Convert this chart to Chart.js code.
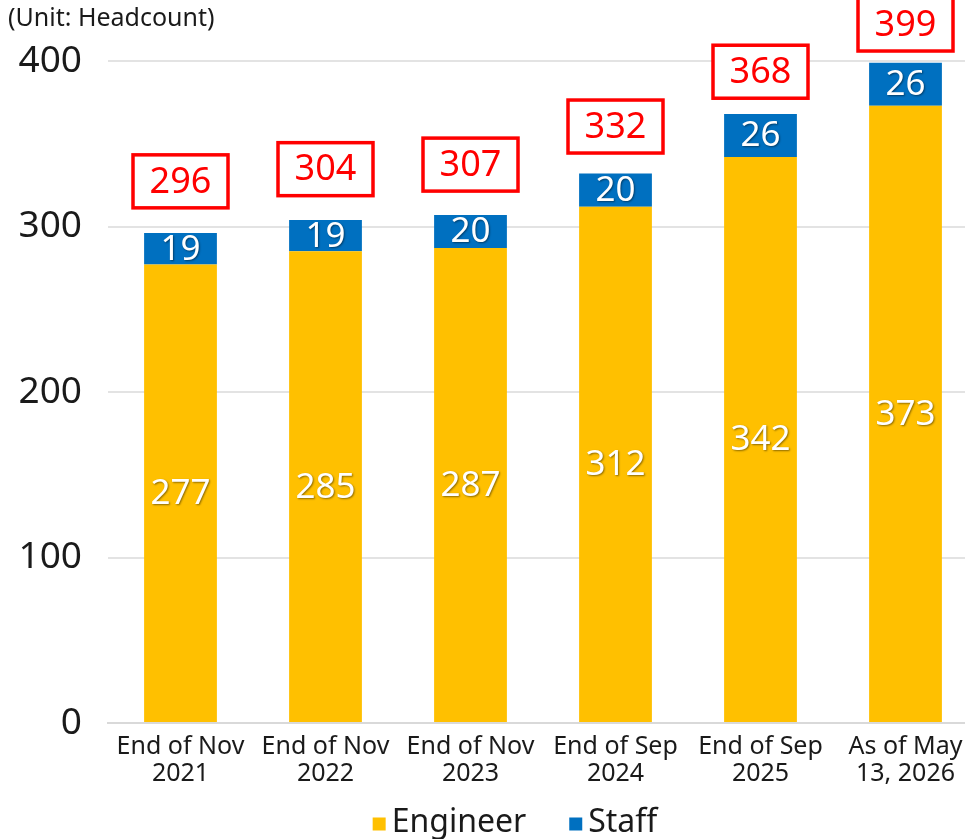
<!DOCTYPE html>
<html>
<head>
<meta charset="utf-8">
<script src="https://cdn.jsdelivr.net/npm/chart.js@4/dist/chart.umd.min.js"></script>
<style>
  html, body { margin: 0; padding: 0; background: #fff; overflow: hidden; }
  #wrap { width: 965px; height: 839px; position: relative; overflow: hidden; }
  #c { display: block; }
</style>
</head>
<body>
<div id="wrap"><canvas id="c" width="978" height="839"></canvas></div>
<script>
const categories = [
  ["End of Nov", "2021"],
  ["End of Nov", "2022"],
  ["End of Nov", "2023"],
  ["End of Sep", "2024"],
  ["End of Sep", "2025"],
  ["As of May", "13, 2026"]
];
const engineer = [277, 285, 287, 312, 342, 373];
const staff = [19, 19, 20, 20, 26, 26];
const totals = [296, 304, 307, 332, 368, 399];
const yTicks = [0, 100, 200, 300, 400];
const unitLabel = "(Unit: Headcount)";

const FONT = "'Noto Sans', 'Noto Sans CJK JP', sans-serif";
const YELLOW = "#FFC000";
const BLUE = "#0070C0";
const RED = "#FF0000";
const TEXT = "#1a1a1a";

const labelsPlugin = {
  id: 'labelsPlugin',
  afterDatasetsDraw(chart) {
    const ctx = chart.ctx;
    ctx.save();
    // segment labels
    chart.data.datasets.forEach((ds, di) => {
      const meta = chart.getDatasetMeta(di);
      meta.data.forEach((bar, i) => {
        const top = Math.min(bar.y, bar.base);
        const bottom = Math.max(bar.y, bar.base);
        const cy = (top + bottom) / 2;
        ctx.font = "35px " + FONT;
        ctx.textAlign = 'center';
        ctx.textBaseline = 'middle';
        ctx.shadowColor = 'rgba(0,0,0,0.45)';
        ctx.shadowBlur = 2;
        ctx.shadowOffsetX = 1;
        ctx.shadowOffsetY = 1;
        ctx.fillStyle = '#FFFFFF';
        ctx.fillText(String(ds.data[i]), bar.x, cy + 1);
      });
    });
    ctx.shadowColor = 'transparent';
    ctx.shadowBlur = 0;
    ctx.shadowOffsetX = 0;
    ctx.shadowOffsetY = 0;
    // total boxes
    const topMeta = chart.getDatasetMeta(chart.data.datasets.length - 1);
    const yScale = chart.scales.y;
    topMeta.data.forEach((bar, i) => {
      const yTop = yScale.getPixelForValue(totals[i]);
      const cy = yTop - (38 + 0.08 * (yTop - chart.chartArea.top));
      const w = 95, h = 53;
      ctx.fillStyle = '#FFFFFF';
      ctx.fillRect(bar.x - w / 2, cy - h / 2, w, h);
      ctx.lineWidth = 3.5;
      ctx.strokeStyle = RED;
      ctx.strokeRect(bar.x - w / 2, cy - h / 2, w, h);
      ctx.font = "36px " + FONT;
      ctx.textAlign = 'center';
      ctx.textBaseline = 'middle';
      ctx.fillStyle = RED;
      ctx.fillText(String(totals[i]), bar.x, cy + 1);
    });
    ctx.restore();
  }
};

const legendPlugin = {
  id: 'customLegend',
  afterDraw(chart) {
    const ctx = chart.ctx;
    ctx.save();
    ctx.font = "32px " + FONT;
    ctx.textBaseline = 'middle';
    ctx.textAlign = 'left';
    const box = 13, gapBoxText = 6, gapItems = 43;
    const items = chart.data.datasets.map(ds => ({ text: ds.label, color: ds.backgroundColor, w: ctx.measureText(ds.label).width }));
    let total = 0;
    items.forEach((it, k) => { total += box + gapBoxText + it.w + (k < items.length - 1 ? gapItems : 0); });
    const center = (chart.chartArea.left + chart.chartArea.right) / 2 - 28;
    let x = center - total / 2;
    const cy = 823;
    items.forEach(it => {
      ctx.fillStyle = it.color;
      ctx.fillRect(x, cy - box / 2 + 1, box, box);
      x += box + gapBoxText;
      ctx.fillStyle = TEXT;
      ctx.fillText(it.text, x, cy);
      x += it.w + gapItems;
    });
    ctx.restore();
  }
};

new Chart(document.getElementById('c'), {
  type: 'bar',
  data: {
    labels: categories,
    datasets: [
      { label: 'Engineer', data: engineer, backgroundColor: YELLOW, borderWidth: 0 },
      { label: 'Staff', data: staff, backgroundColor: BLUE, borderWidth: 0 }
    ]
  },
  options: {
    responsive: false,
    animation: false,
    devicePixelRatio: 1,
    layout: { padding: { left: 8, right: 0, top: 0, bottom: 41 } },
    datasets: { bar: { categoryPercentage: 1.0, barPercentage: 0.502 } },
    scales: {
      x: {
        stacked: true,
        grid: { display: false, drawTicks: false },
        border: { display: true, color: '#D9D9D9', width: 2 },
        ticks: {
          color: TEXT,
          font: { family: FONT, size: 25, lineHeight: 1.1 },
          padding: 10,
          maxRotation: 0,
          autoSkip: false
        }
      },
      y: {
        stacked: true,
        min: 0,
        max: 400,
        afterBuildTicks(scale) { scale.ticks = yTicks.map(v => ({ value: v })); },
        afterFit(scale) { scale.width = 100; },
        grid: { color: '#E3E3E3', lineWidth: 2, drawTicks: false },
        border: { display: false },
        ticks: {
          color: TEXT,
          font: { family: FONT, size: 37 },
          padding: 26
        }
      }
    },
    plugins: {
      title: {
        display: true,
        text: unitLabel,
        align: 'start',
        color: TEXT,
        font: { family: FONT, size: 25, weight: 'normal' },
        padding: { top: 4, bottom: 27 }
      },
      legend: { display: false },
      tooltip: { enabled: false }
    }
  },
  plugins: [labelsPlugin, legendPlugin]
});
</script>
</body>
</html>
